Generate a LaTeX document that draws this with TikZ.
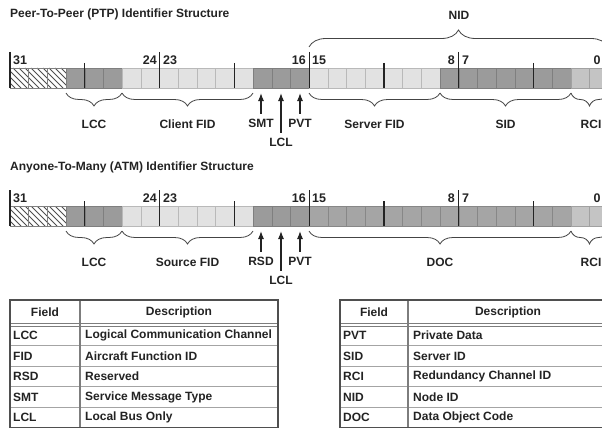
\documentclass[tikz,border=0pt]{standalone}
\usepackage{fontspec}
\setmainfont{Liberation Sans}
\usetikzlibrary{arrows.meta,decorations.pathreplacing,positioning}
\definecolor{ink}{RGB}{35,35,35}
\definecolor{darkcell}{RGB}{155,155,155}
\definecolor{doccell}{RGB}{165,165,165}
\definecolor{lightcell}{RGB}{226,226,226}
\definecolor{midcell}{RGB}{196,196,196}
\definecolor{rulegray}{RGB}{125,125,125}

\tikzset{
  cell/.style={line width=0.5pt},
  tick/.style={line width=1.2pt, draw=ink},
  lbl/.style={font=\bfseries\fontsize{12}{13}\selectfont, text=ink, inner sep=0pt},
  bitnum/.style={lbl, font=\bfseries\fontsize{12.5}{13}\selectfont},
  brc/.style={decorate, decoration={brace, mirror, amplitude=13pt}, draw=ink!85, line width=0.8pt},
  topbrc/.style={decorate, decoration={brace, amplitude=17pt}, draw=ink!85, line width=0.8pt},
  uparr/.style={-{Latex[length=8pt,width=6pt]}, line width=1.1pt, draw=ink, shorten <=5pt},
  thead/.style={lbl},
  tcell/.style={lbl, anchor=west},
  trow/.style={draw=rulegray!70, line width=0.9pt},
}

% one run of bits, from bit #1 down to bit #2
\newcommand{\field}[3]{%
  \foreach \b in {#1,...,#2}
    \draw[cell, fill=#3, draw=#3!82!black] ({10+(31-\b)*18.7},68) rectangle ++(18.7,20);}

% hatched unused bits 31..29
\newcommand{\hatch}{%
  \begin{scope}
    \clip (10,68) rectangle (66.1,88);
    \fill[white] (10,68) rectangle (66.1,88);
    \foreach \k in {-21,-15,...,56}
      \draw[line width=1pt, draw=ink!80] ({10+\k},68) -- ++(20,20);
  \end{scope}
  \foreach \b in {31,30,29}
    \draw[cell, draw=gray] ({10+(31-\b)*18.7},68) rectangle ++(18.7,20);}

% byte / nibble ticks and bit numbers
\newcommand{\ticks}[1]{%
  \foreach \k in {0,2,4,6}
    \draw[tick] ({10+\k*74.8},52) -- ({10+\k*74.8},88);
  \foreach \k in {1,3,5,7}
    \draw[tick] ({10+\k*74.8},63) -- ({10+\k*74.8},88);
  \node[bitnum, anchor=west] (#1b31) at (13,60) {31};
  \node[bitnum, anchor=east] (#1b24) at (157,60) {24};
  \node[bitnum, anchor=west] (#1b23) at (163,60) {23};
  \node[bitnum, anchor=east] (#1b16) at (306,60) {16};
  \node[bitnum, anchor=west] (#1b15) at (312,60) {15};
  \node[bitnum, anchor=east] (#1b8) at (455,60) {8};
  \node[bitnum, anchor=west] (#1b7) at (462,60) {7};
  \node[bitnum] (#1b0) at (597,60) {0};}

\begin{document}
\begin{tikzpicture}[x=1pt, y=-1pt]
  \useasboundingbox (0,0) rectangle (602,428);
  \clip (0,0) rectangle (602,428);
  \fill[white] (0,0) rectangle (602,428);

  % Peer-To-Peer identifier
  \node[lbl, anchor=west] (ptptitle) at (10,14) {Peer-To-Peer (PTP) Identifier Structure};
  \hatch
  \field{28}{26}{darkcell}
  \field{25}{19}{lightcell}
  \field{18}{16}{darkcell}
  \field{15}{9}{lightcell}
  \field{8}{2}{darkcell}
  \field{1}{0}{midcell}
  \ticks{p}

  \draw[topbrc] (309,47) -- (608,47);
  \node[lbl] (nid) at (459,15) {NID};

  \draw[brc] (66,93) -- (122,93);
  \draw[brc] (122,93) -- (253,93);
  \draw[brc] (309,93) -- (440,93);
  \draw[brc] (440,93) -- (571,93);
  \draw[brc] (571,93) -- (608,93);
  \coordinate (pbot) at (0,93);

  \node[lbl] (plcc) at (94,124) {LCC};
  \node[lbl] (pfid) at (187.5,124) {Client FID};
  \node[lbl] (psmt) at (261,123) {SMT};
  \node[lbl] (plcl) at (281,142) {LCL};
  \node[lbl] (ppvt) at (300,123) {PVT};
  \node[lbl] (psfid) at (374.5,124) {Server FID};
  \node[lbl] (psid) at (505.5,124) {SID};
  \node[lbl] (prci) at (591,124) {RCI};
  \draw[uparr] (psmt.north) -- (psmt.north |- pbot);
  \draw[uparr] (plcl.north) -- (plcl.north |- pbot);
  \draw[uparr] (ppvt.north) -- (ppvt.north |- pbot);

  % Anyone-To-Many identifier
  \node[lbl, anchor=west] (atmtitle) at (10,167) {Anyone-To-Many (ATM) Identifier Structure};
  \begin{scope}[shift={(0,138)}]
    \hatch
    \field{28}{26}{darkcell}
    \field{25}{19}{lightcell}
    \field{18}{16}{darkcell}
    \field{15}{2}{doccell}
    \field{1}{0}{midcell}
    \ticks{a}

    \draw[brc] (66,93) -- (122,93);
    \draw[brc] (122,93) -- (253,93);
    \draw[brc] (309,93) -- (571,93);
    \draw[brc] (571,93) -- (608,93);
    \coordinate (abot) at (0,93);

    \node[lbl] (alcc) at (94,124) {LCC};
    \node[lbl] (afid) at (187.5,124) {Source FID};
    \node[lbl] (arsd) at (261,123) {RSD};
    \node[lbl] (alcl) at (281,142) {LCL};
    \node[lbl] (apvt) at (300,123) {PVT};
    \node[lbl] (adoc) at (440,124) {DOC};
    \node[lbl] (arci) at (591,124) {RCI};
    \draw[uparr] (arsd.north) -- (arsd.north |- abot);
    \draw[uparr] (alcl.north) -- (alcl.north |- abot);
    \draw[uparr] (apvt.north) -- (apvt.north |- abot);
  \end{scope}

  % Field tables
  \foreach \xa/\xc/\xb in {10/80/278, 340/408/608} {
    \foreach \r in {1,...,4}
      \draw[trow] (\xa,{325+\r*20.5}) -- (\xb,{325+\r*20.5});
    \draw[draw=rulegray, line width=0.6pt] (\xa,323.5) -- (\xb,323.5);
    \draw[draw=rulegray, line width=0.6pt] (\xa,326.5) -- (\xb,326.5);
    \draw[draw=rulegray, line width=1.3pt] (\xc,300) -- (\xc,428);
    \draw[draw=ink!80, line width=1.4pt] (\xa,427.3) |- (\xb,300) -- (\xb,427.3) -- cycle;
  }
  \node[thead] (lfh) at (45,312.5) {Field};
  \node[thead] (ldh) at (179,312.5) {Description};
  \node[thead] (rfh) at (374,312.5) {Field};
  \node[thead] (rdh) at (508,312.5) {Description};
  \foreach \f/\d [count=\i] in {LCC/Logical Communication Channel, FID/Aircraft Function ID,
      RSD/Reserved, SMT/Service Message Type, LCL/Local Bus Only} {
    \node[tcell] (lf\i) at (13,{315+\i*20.5}) {\f};
    \node[tcell] (ld\i) at (85,{315+\i*20.5}) {\d};
  }
  \foreach \f/\d [count=\i] in {PVT/Private Data, SID/Server ID,
      RCI/Redundancy Channel ID, NID/Node ID, DOC/Data Object Code} {
    \node[tcell] (rf\i) at (343,{315+\i*20.5}) {\f};
    \node[tcell] (rd\i) at (413,{315+\i*20.5}) {\d};
  }
\end{tikzpicture}
\end{document}
